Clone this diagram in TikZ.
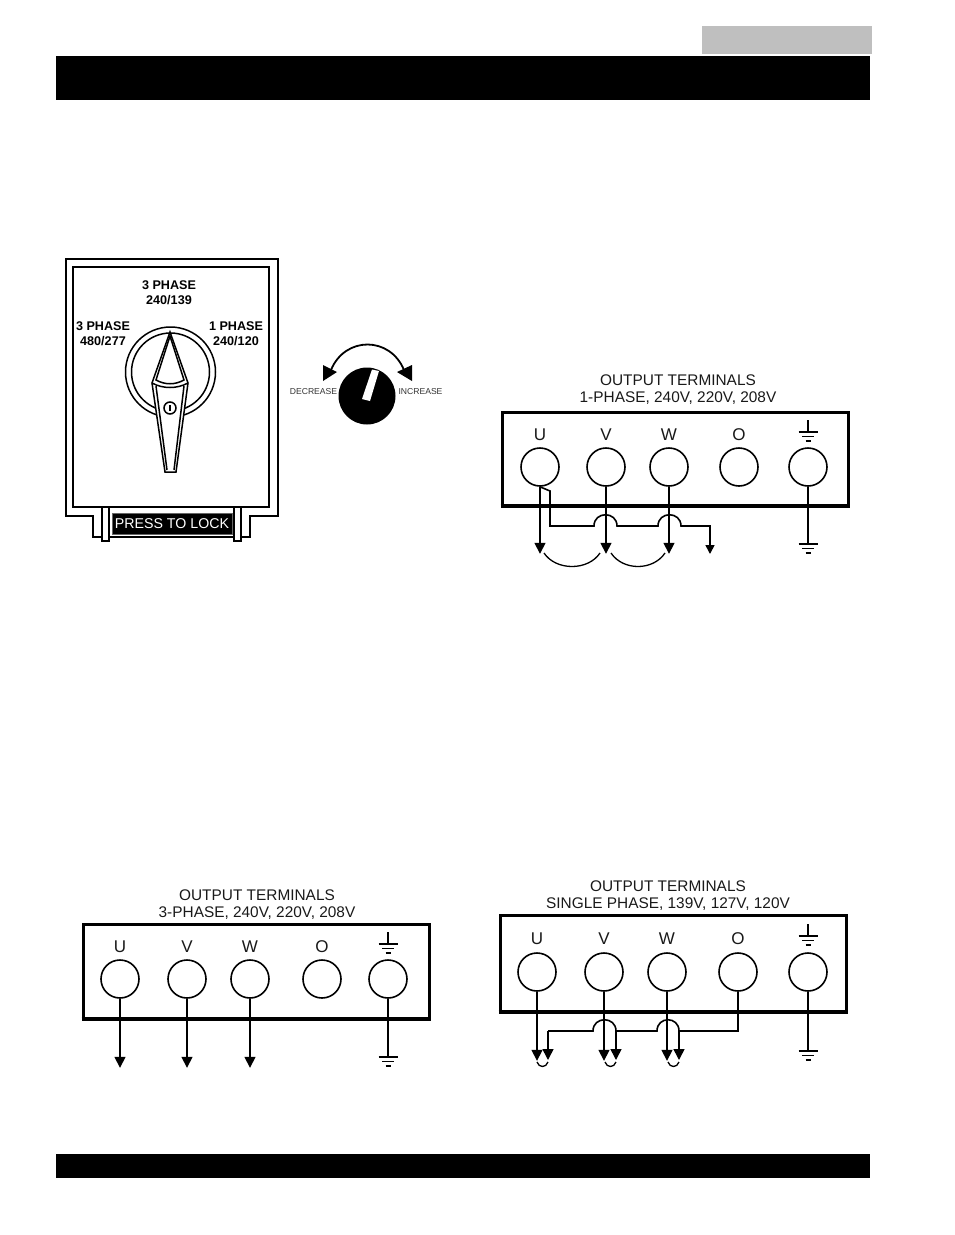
\documentclass[tikz,border=0pt]{standalone}
\usepackage{fontspec}
\setmainfont{Liberation Sans}
\usetikzlibrary{arrows.meta}
\definecolor{hdrgray}{gray}{0.75}
\tikzset{
  panel/.style={draw=black,line width=3pt,fill=white},
  term/.style={draw=black,circle,line width=1.6pt,minimum size=38pt,inner sep=0pt,fill=white},
  tlabel/.style={font=\fontsize{17}{17}\selectfont,text=black!90,inner sep=0pt},
  title/.style={font=\fontsize{15.4}{15.4}\selectfont,text=black!90,inner sep=0pt},
  swlabel/.style={font=\fontsize{12.6}{12.6}\selectfont\bfseries,inner sep=0pt},
  dial/.style={font=\fontsize{8.6}{8.6}\selectfont,text=black!80,inner sep=0pt},
  wire/.style={line width=1.6pt,draw=black},
  feed/.style={wire,-{Triangle[length=11pt,width=11pt]}},
  feedsmall/.style={wire,-{Triangle[length=9pt,width=9pt]}},
  link/.style={line width=1.3pt,draw=black},
  swline/.style={draw=black,line width=1.5pt},
  swheavy/.style={draw=black,line width=2.8pt},
  gnd/.pic={
    \draw[line width=2pt] (-9.5,0)--(9.5,0);
    \draw[line width=1.5pt] (-6,4.5)--(6,4.5);
    \draw[line width=1.5pt] (-2.5,9)--(2.5,9);
  }
}
\newcommand{\terms}[8]{%
  \node[term] (#1U) at (#3,#2) {};
  \node[term] (#1V) at (#4,#2) {};
  \node[term] (#1W) at (#5,#2) {};
  \node[term] (#1O) at (#6,#2) {};
  \node[term] (#1G) at (#7,#2) {};
  \node[tlabel] (#1lU) at (#3,#8) {U};
  \node[tlabel] (#1lV) at (#4,#8) {V};
  \node[tlabel] (#1lW) at (#5,#8) {W};
  \node[tlabel] (#1lO) at (#6,#8) {O};
  \coordinate (#1gt) at (#7,#8-15);
  \coordinate (#1gb) at (#7,#8-3);
  \draw[wire] (#1gt)--(#1gb);
  \pic at (#1gb) {gnd};
}
\begin{document}
\begin{tikzpicture}[x=1pt,y=-1pt]
\useasboundingbox (0,0) rectangle (954,1235);
% header and footer
\fill[hdrgray] (702,26) rectangle (872,54);
\fill[black] (56,56) rectangle (870,100);
\fill[black] (56,1154) rectangle (870,1178);

% selector switch housing
\draw[swheavy,fill=white] (66,259)--(278,259)--(278,516)--(250,516)--(250,537)--(93,537)--(93,516)--(66,516)--cycle;
\draw[swheavy,fill=white] (73,267)--(269,267)--(269,507)--(73,507)--cycle;
\draw[swline,fill=white] (102,507)--(109,507)--(109,541)--(102,541)--cycle;
\draw[swline,fill=white] (234,507)--(241,507)--(241,541)--(234,541)--cycle;
\node[fill=black,draw=black!60,line width=0.8pt,text=white,font=\fontsize{14.2}{14.2}\selectfont,
  minimum width=120pt,minimum height=21pt,inner sep=0pt] (lock) at (172,523.5) {PRESS TO LOCK};
\node[swlabel] (s1a) at (169,285) {3 PHASE};
\node[swlabel] (s1b) at (169,300) {240/139};
\node[swlabel] (s2a) at (103,326) {3 PHASE};
\node[swlabel] (s2b) at (103,341) {480/277};
\node[swlabel] (s3a) at (236,326) {1 PHASE};
\node[swlabel] (s3b) at (236,341) {240/120};
% knob ring and handle
\draw[swline] (170.5,372) circle (45);
\draw[swline] (170.5,372) circle (39);
\draw[swline,fill=white] (170,332)--(188,383)--(176,472)--(165,472)--(152,383)--cycle;
\draw[swline] (170,336)--(156,380) .. controls (165,385) and (175,385) .. (184,380)--cycle;
\draw[swline] (152,383) .. controls (163,389) and (177,389) .. (188,383);
\draw[swline] (156,386)--(167,470);
\draw[swline] (184,386)--(174,470);
\draw[swline,fill=white] (170,408) circle (6);
\draw[line width=1.5pt] (170,405)--(170,411);

% voltage dial
\fill[black] (367,396) circle (28.5);
\fill[white] (372,369.5)--(379,371)--(370,401)--(362,399)--cycle;
\draw[line width=1.8pt] (331,370) .. controls (345,336) and (390,336) .. (404,370);
\fill[black] (323,365)--(337,372)--(323,381)--cycle;
\fill[black] (412,365)--(397,372)--(412,381)--cycle;
\node[dial] (dec) at (313.5,392) {DECREASE};
\node[dial] (inc) at (420.5,392) {INCREASE};

% panel A: 1-phase
\node[title] (ta1) at (678,380) {OUTPUT TERMINALS};
\node[title] (ta2) at (678,398) {1-PHASE, 240V, 220V, 208V};
\draw[panel] (502,412) rectangle (848,506);
\draw[line width=3.6pt] (500.5,506) -- (849.5,506);
\terms{a}{467}{540}{606}{669}{739}{808}{435}
\draw[feed] (aU.south) -- ++(0,67) coordinate (aUe);
\draw[feed] (aV.south) -- ++(0,67) coordinate (aVe);
\draw[feed] (aW.south) -- ++(0,67) coordinate (aWe);
\draw[wire] (aG.south) -- ++(0,57) coordinate (aGe);
\pic at (aGe) {gnd};
\coordinate (a1) at (550,491);
\coordinate (a2) at (550,526);
\draw[feedsmall] (aU.south) -- (a1) -- (a2) -- (594,526)
  .. controls (594,511) and (617,511) .. (617,526) -- (658,526)
  .. controls (658,511) and (681,511) .. (681,526) -- (710,526) -- (710,554);
\coordinate (aL1) at (544,553); \coordinate (aL2) at (600,553);
\coordinate (aL3) at (611,553); \coordinate (aL4) at (665,553);
\draw[link] (aL1) .. controls (556,571) and (588,571) .. (aL2);
\draw[link] (aL3) .. controls (623,571) and (653,571) .. (aL4);

% panel B: 3-phase
\node[title] (tb1) at (257,895) {OUTPUT TERMINALS};
\node[title] (tb2) at (257,913) {3-PHASE, 240V, 220V, 208V};
\draw[panel] (83,924) rectangle (429,1019);
\draw[line width=3.6pt] (81.5,1019) -- (430.5,1019);
\terms{b}{979}{120}{187}{250}{322}{388}{947}
\draw[feed] (bU.south) -- ++(0,69) coordinate (bUe);
\draw[feed] (bV.south) -- ++(0,69) coordinate (bVe);
\draw[feed] (bW.south) -- ++(0,69) coordinate (bWe);
\draw[wire] (bG.south) -- ++(0,58) coordinate (bGe);
\pic at (bGe) {gnd};

% panel C: single phase
\node[title] (tc1) at (668,886) {OUTPUT TERMINALS};
\node[title] (tc2) at (668,904) {SINGLE PHASE, 139V, 127V, 120V};
\draw[panel] (500,915) rectangle (846,1012);
\draw[line width=3.6pt] (498.5,1012) -- (847.5,1012);
\terms{c}{972}{537}{604}{667}{738}{808}{939}
\draw[feed] (cU.south) -- ++(0,69) coordinate (cUe);
\draw[feed] (cV.south) -- ++(0,69) coordinate (cVe);
\draw[feed] (cW.south) -- ++(0,69) coordinate (cWe);
\draw[wire] (cG.south) -- ++(0,59) coordinate (cGe);
\pic at (cGe) {gnd};
\coordinate (cO1) at (738,1031);
\coordinate (cR3) at (679,1031);
\coordinate (cL3) at (657,1031);
\coordinate (cR2) at (616,1031);
\coordinate (cL2) at (593,1031);
\coordinate (cL1) at (548,1031);
\draw[wire] (cO.south) -- (cO1) -- (cR3) .. controls (679,1016) and (657,1016) .. (cL3) -- (cR2)
  .. controls (616,1016) and (593,1016) .. (cL2) -- (cL1);
\draw[feed] (cR3) -- ++(0,29);
\draw[feed] (cR2) -- ++(0,29);
\draw[feed] (cL1) -- ++(0,29);
\foreach \n/\a/\b in {1/537/548,2/605/616,3/668/679}{
  \coordinate (cj\n a) at (\a,1062);
  \coordinate (cj\n b) at (\b,1062);
  \draw[link] (cj\n a) .. controls (\a+2,1068) and (\b-2,1068) .. (cj\n b);
}
\end{tikzpicture}
\end{document}
